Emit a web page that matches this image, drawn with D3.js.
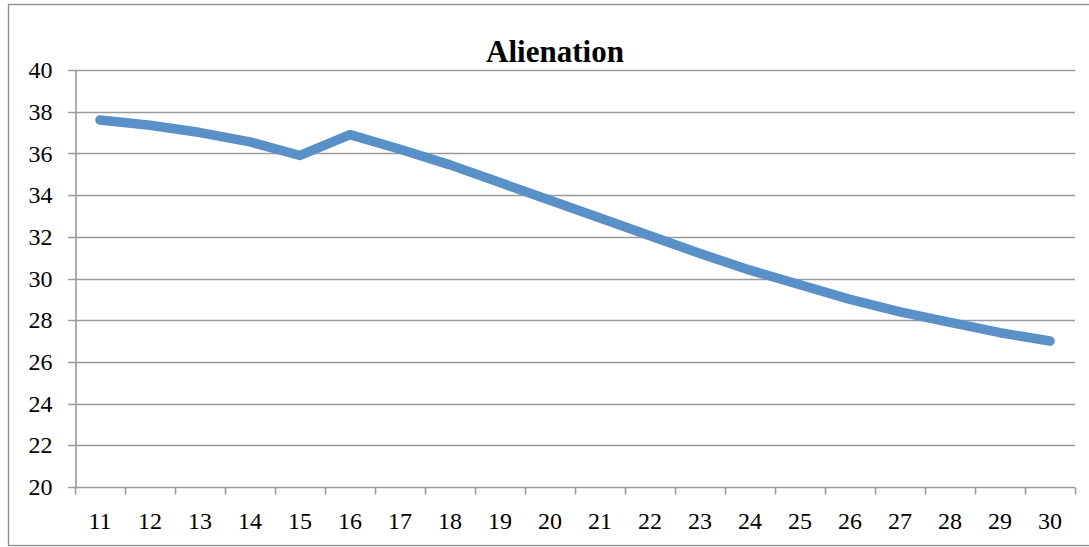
<!DOCTYPE html>
<html>
<head>
<meta charset="utf-8">
<script src="https://cdn.jsdelivr.net/npm/d3@7"></script>
</head>
<body style="margin:0">
<svg id="chart" width="1089" height="547"></svg>
<script>
// Ages on the horizontal axis and the alienation score at each age
const ages = ["11","12","13","14","15","16","17","18","19","20","21","22","23","24","25","26","27","28","29","30"];
const alienation = [37.6, 37.35, 37.0, 36.55, 35.9, 36.9, 36.2, 35.45, 34.6, 33.75, 32.9, 32.05, 31.2, 30.4, 29.7, 29.0, 28.4, 27.9, 27.4, 27.0];
const yTicks = [20, 22, 24, 26, 28, 30, 32, 34, 36, 38, 40];
const chartTitle = "Alienation";

const svg = d3.select("#chart");
const W = 1089, H = 547;
const plot = { left: 75, right: 1075, top: 70, bottom: 487 };

const x = d3.scaleBand().domain(ages).range([plot.left, plot.right]).padding(0);
const y = d3.scaleLinear().domain([20, 40]).range([plot.bottom, plot.top]);

const gridColor = "#9a9a9a";
const font = '"Liberation Serif"';
const labelSize = "24px";

// outer chart frame
svg.append("rect")
  .attr("x", 8.5).attr("y", 4.5)
  .attr("width", W + 10).attr("height", 541)
  .attr("fill", "#fff").attr("stroke", "#8c8c8c").attr("stroke-width", 1.3);

// horizontal gridlines with short outer ticks on the left
svg.append("g").selectAll("line")
  .data(yTicks)
  .join("line")
  .attr("x1", plot.left - 7).attr("x2", plot.right)
  .attr("y1", d => Math.round(y(d)) + 0.5).attr("y2", d => Math.round(y(d)) + 0.5)
  .attr("stroke", gridColor).attr("stroke-width", 1.6);

// left axis line and tick labels
const yAxis = d3.axisLeft(y).tickValues(yTicks).tickSize(0).tickPadding(23);
const gy = svg.append("g")
  .attr("transform", `translate(${plot.left + 0.5},0)`)
  .call(yAxis)
  .attr("font-family", "Liberation Serif")
  .attr("font-size", 24);
gy.select(".domain").attr("stroke", gridColor).attr("stroke-width", 1.6);
gy.selectAll("text")
  .style("font-family", font).style("font-size", labelSize).attr("fill", "#000");

// bottom axis: ticks at category boundaries, labels centred in each band
const gx = svg.append("g").attr("transform", `translate(0,${Math.round(plot.bottom) + 0.5})`);
const boundaries = ages.map(a => x(a)).concat([plot.right]);
gx.selectAll("line")
  .data(boundaries)
  .join("line")
  .attr("x1", d => Math.round(d) + 0.5).attr("x2", d => Math.round(d) + 0.5)
  .attr("y1", 0).attr("y2", 7)
  .attr("stroke", gridColor).attr("stroke-width", 1.6);
gx.selectAll("text")
  .data(ages)
  .join("text")
  .attr("x", d => x(d) + x.bandwidth() / 2)
  .attr("y", 34)
  .attr("dy", "0.32em")
  .attr("text-anchor", "middle")
  .style("font-family", font).style("font-size", labelSize).attr("fill", "#000")
  .text(d => d);

// series line
const line = d3.line()
  .x((d, i) => x(ages[i]) + x.bandwidth() / 2)
  .y(d => y(d))
  .curve(d3.curveLinear);

svg.append("path")
  .datum(alienation)
  .attr("d", line)
  .attr("fill", "none")
  .attr("stroke", "#5a90c8")
  .attr("stroke-width", 9.5)
  .attr("stroke-linejoin", "round")
  .attr("stroke-linecap", "round");

// title
svg.append("text")
  .attr("x", 555).attr("y", 62)
  .attr("text-anchor", "middle")
  .style("font-family", font).style("font-size", "31px").style("font-weight", "bold")
  .attr("fill", "#000")
  .text(chartTitle);
</script>
</body>
</html>
